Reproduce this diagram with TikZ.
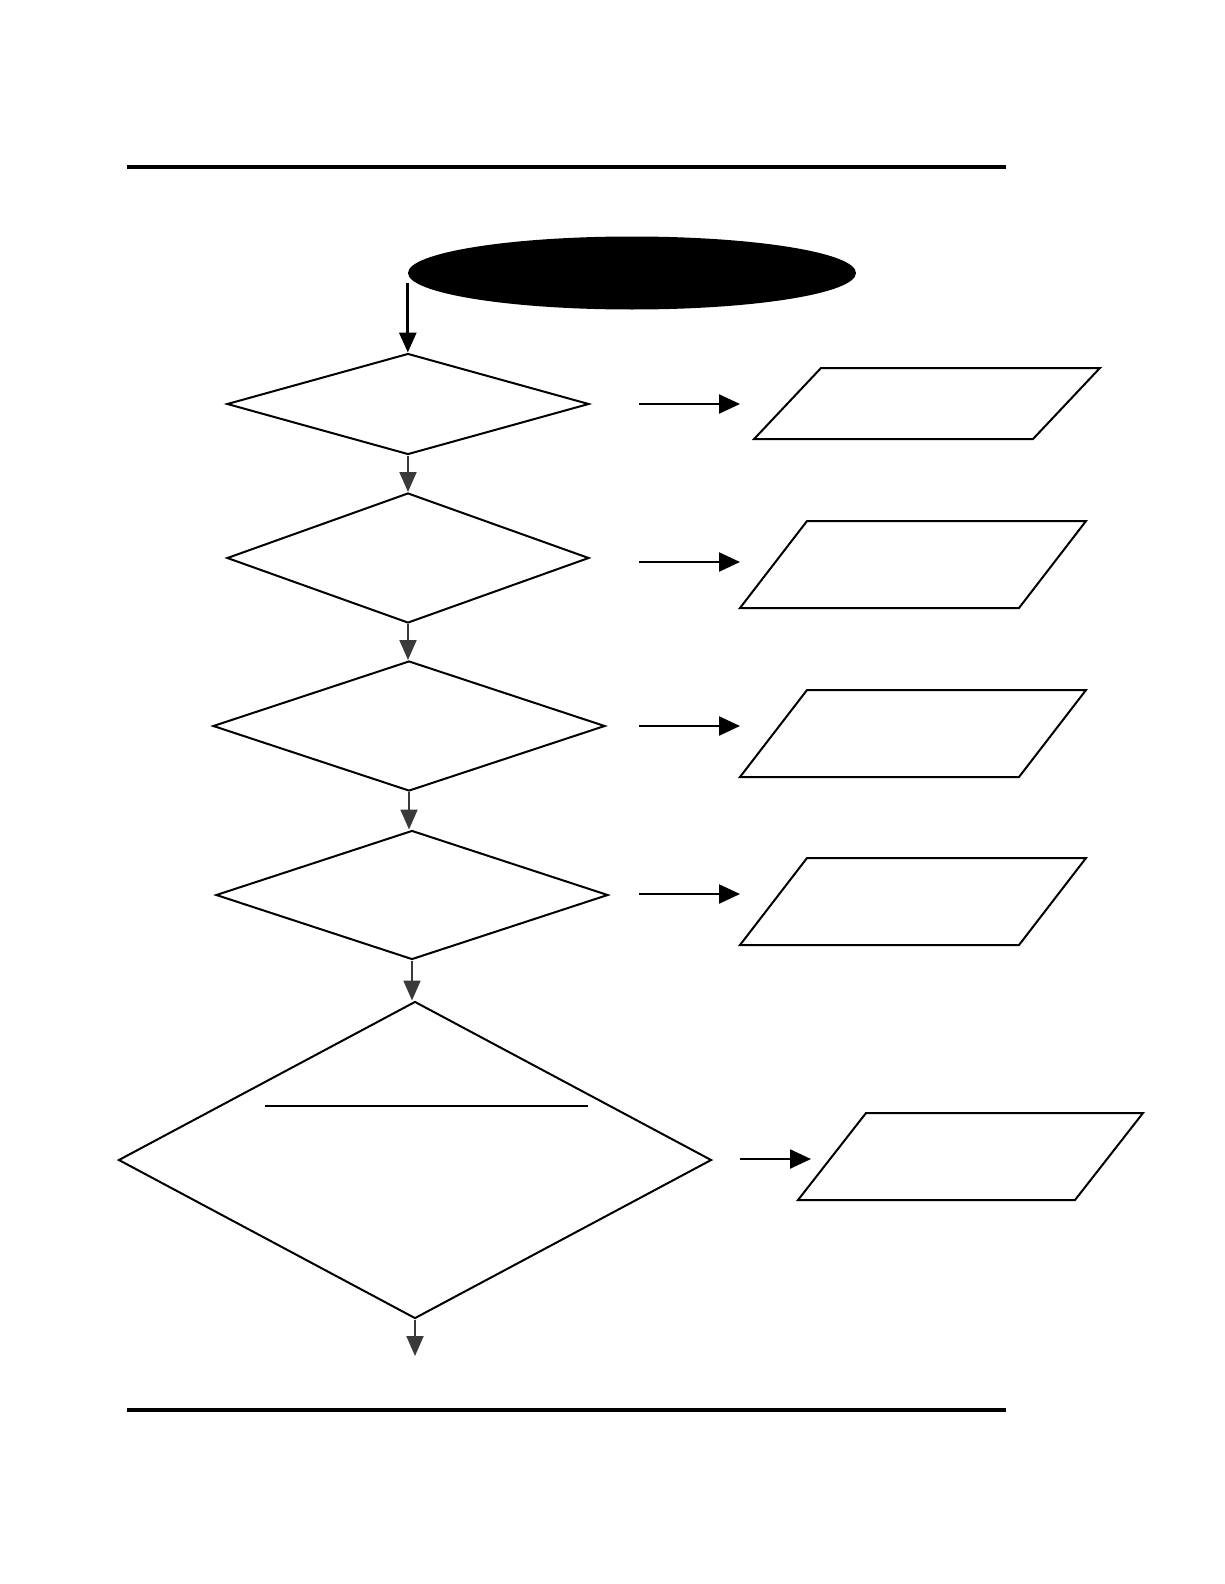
\documentclass[tikz,border=0pt]{standalone}
\usepackage{tikz}
\usetikzlibrary{arrows.meta, shapes.geometric}

\definecolor{flowgray}{HTML}{3A3A3A}

\begin{document}
\begin{tikzpicture}[
  x=1pt, y=-1pt,
  decision/.style={draw, diamond, inner sep=0pt, line width=2pt},
  output/.style 2 args={draw, trapezium, trapezium left angle=#1, trapezium right angle=180-#1,
    inner sep=0pt, text width=212pt, text height=#2, text depth=0pt, line width=2pt},
  startnode/.style={ellipse, fill=black, inner sep=0pt, minimum width=448pt, minimum height=73pt},
  down/.style={-{Triangle[length=20pt, width=17pt]}, flowgray, line width=2pt},
  side/.style={-{Triangle[length=21pt, width=19pt]}, line width=2.4pt},
  rule/.style={line width=4pt}
]
\useasboundingbox (0,0) rectangle (1224,1584);

% page rules
\coordinate (topl) at (127,167);
\coordinate (topr) at (1006,167);
\coordinate (botl) at (127,1410);
\coordinate (botr) at (1006,1410);
\draw[rule] (topl) -- (topr);
\draw[rule] (botl) -- (botr);

% start
\node[startnode] (start) at (632,273) {};

% decisions
\node[decision, minimum width=362pt, minimum height=101pt] (d1) at (408,404) {};
\node[decision, minimum width=362pt, minimum height=130pt] (d2) at (408,558) {};
\node[decision, minimum width=392pt, minimum height=130pt] (d3) at (409,726) {};
\node[decision, minimum width=392pt, minimum height=129pt] (d4) at (412,895) {};
\node[decision, minimum width=593pt, minimum height=317pt] (d5) at (415,1160) {};
\coordinate (sepl) at (265,1106);
\coordinate (sepr) at (588,1106);
\draw[line width=1.2pt] (sepl) -- (sepr);

% outputs
\node[output={46.7}{71pt}] (p1) at (927,403.5) {};
\node[output={52.4}{87pt}] (p2) at (913,564.5) {};
\node[output={52.4}{87pt}] (p3) at (913,733.5) {};
\node[output={52.4}{87pt}] (p4) at (913,901.5) {};
\node[output={52}{87pt}, text width=209pt] (p5) at (970.5,1156.5) {};

% side arrows
\coordinate (r1a) at (639,404);  \coordinate (r1b) at (740,404);
\coordinate (r2a) at (639,562);  \coordinate (r2b) at (740,562);
\coordinate (r3a) at (639,726);  \coordinate (r3b) at (740,726);
\coordinate (r4a) at (639,894);  \coordinate (r4b) at (740,894);
\coordinate (r5a) at (740,1159); \coordinate (r5b) at (811,1159);
\draw[side] (r1a) -- (r1b);
\draw[side] (r2a) -- (r2b);
\draw[side] (r3a) -- (r3b);
\draw[side] (r4a) -- (r4b);
\draw[side] (r5a) -- (r5b);

% main flow
\coordinate (out) at (415,1356);
\draw[-{Triangle[length=20pt, width=17pt]}, line width=3pt] ([yshift=-10pt]start.west) -- (start.west |- d1.north);
\draw[down] (d1.south) -- (d1.south |- d2.north);
\draw[down] (d2.south) -- (d2.south |- d3.north);
\draw[down] (d3.south) -- (d3.south |- d4.north);
\draw[down] (d4.south) -- (d4.south |- d5.north);
\draw[down] (d5.south) -- (out);
\end{tikzpicture}
\end{document}
